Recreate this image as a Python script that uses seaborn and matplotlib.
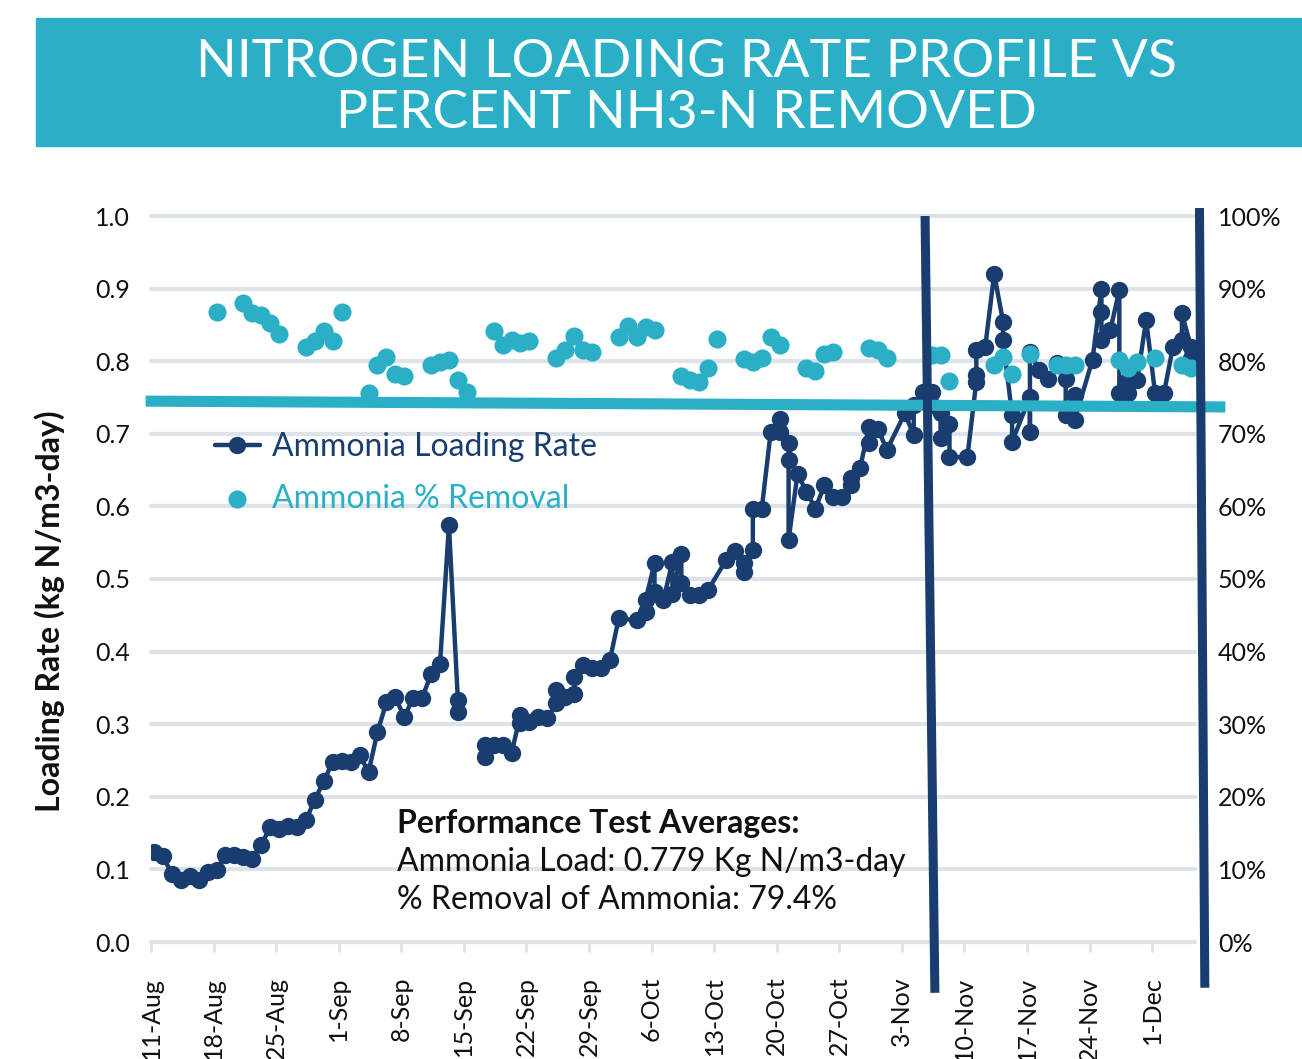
import matplotlib
matplotlib.use("Agg")
import matplotlib.pyplot as plt
import matplotlib.dates as mdates
from matplotlib.patches import Rectangle
from matplotlib.ticker import FuncFormatter, MultipleLocator
import seaborn as sns
import pandas as pd

# ---- data (day offsets from start date) ----
START = pd.Timestamp("2014-08-11")
READ_TIME = pd.Timedelta(hours=8)      # samples taken in the morning
END_DAY = 116.8

# Ammonia loading rate (kg N/m3-day); segment 1 breaks before the mid-Sep gap
rate_day_1 = [0, 1, 2, 3, 4, 5, 6, 7, 8, 9, 10, 11, 12, 13, 14, 15, 16, 17,
              18, 19, 20, 21, 22, 23, 24, 25, 26, 27, 28, 29, 30, 31, 32, 33,
              34, 34]
rate_val_1 = [0.124, 0.118, 0.094, 0.085, 0.091, 0.085, 0.096, 0.099, 0.120,
              0.120, 0.117, 0.115, 0.134, 0.158, 0.156, 0.160, 0.158, 0.168,
              0.196, 0.222, 0.248, 0.250, 0.248, 0.258, 0.234, 0.289, 0.330,
              0.337, 0.310, 0.336, 0.336, 0.369, 0.383, 0.574, 0.333, 0.317]
rate_day_2 = [37, 37, 38, 39, 40, 41, 41, 42, 43, 44, 45, 45, 46, 47, 47, 48,
              49, 50, 51, 52, 54, 55, 55, 56, 56, 57, 58, 58, 59, 59, 60, 61,
              62, 64, 65, 66, 66, 67, 67, 68, 69, 70, 70, 71, 71, 71, 72, 73,
              74, 75, 76, 77, 78, 78, 79, 80, 80, 81, 82, 84, 85, 85, 86, 87,
              87, 88, 88, 89, 89, 91, 92, 92, 92, 93, 94, 95, 95, 96, 96, 98,
              98, 98, 99, 100, 101, 102, 102, 103, 103, 105, 106, 106, 106,
              107, 108, 108, 109, 109, 110, 111, 112, 113, 114, 115, 115, 116,
              116]
rate_val_2 = [0.255, 0.271, 0.271, 0.271, 0.260, 0.313, 0.301, 0.303, 0.310,
              0.308, 0.329, 0.347, 0.338, 0.342, 0.365, 0.382, 0.377, 0.377,
              0.388, 0.446, 0.443, 0.455, 0.471, 0.522, 0.482, 0.471, 0.524,
              0.480, 0.535, 0.494, 0.478, 0.478, 0.485, 0.526, 0.538, 0.510,
              0.522, 0.540, 0.597, 0.597, 0.703, 0.721, 0.703, 0.687, 0.664,
              0.554, 0.645, 0.620, 0.597, 0.629, 0.613, 0.613, 0.630, 0.639,
              0.653, 0.710, 0.687, 0.706, 0.678, 0.728, 0.698, 0.740, 0.758,
              0.758, 0.740, 0.728, 0.694, 0.714, 0.668, 0.668, 0.772, 0.781,
              0.815, 0.820, 0.920, 0.854, 0.829, 0.726, 0.689, 0.751, 0.703,
              0.813, 0.788, 0.776, 0.797, 0.776, 0.726, 0.753, 0.719, 0.802,
              0.900, 0.868, 0.829, 0.843, 0.898, 0.756, 0.756, 0.774, 0.774,
              0.857, 0.756, 0.756, 0.820, 0.829, 0.866, 0.820, 0.804]

# Ammonia % removal
removal_day = [7, 10, 11, 12, 13, 14, 17, 18, 19, 20, 21, 24, 25, 26, 27, 28,
               31, 32, 33, 34, 35, 38, 39, 40, 41, 42, 45, 46, 47, 48, 49, 52,
               53, 54, 55, 56, 59, 60, 61, 62, 63, 66, 67, 68, 69, 70, 73, 74,
               75, 76, 80, 81, 82, 87, 88, 89, 94, 95, 96, 98, 101, 102, 103,
               108, 109, 110, 112, 115, 116]
removal_pct = [86.8, 88.0, 86.6, 86.4, 85.2, 83.8, 82.0, 82.8, 84.2, 82.8,
               86.8, 75.6, 79.5, 80.6, 78.2, 77.9, 79.5, 79.9, 80.2, 77.4,
               75.8, 84.2, 82.2, 82.9, 82.5, 82.8, 80.5, 81.5, 83.5, 81.5,
               81.2, 83.3, 84.8, 83.3, 84.7, 84.3, 77.9, 77.4, 77.2, 79.0,
               83.0, 80.3, 79.9, 80.4, 83.4, 82.2, 79.0, 78.6, 81.0, 81.2,
               81.8, 81.5, 80.5, 80.9, 80.9, 77.3, 79.5, 80.6, 78.2, 81.0,
               79.5, 79.5, 79.5, 80.2, 79.0, 79.9, 80.4, 79.5, 79.0]

# hand-drawn annotations: target removal line and performance test window
target_day = [-0.6, 120.2]
target_pct = [74.5, 73.7]
window_start_day = [86.6, 87.7]
window_end_day = [117.3, 117.9]
window_start_pct = [100.0, -7.0]
window_end_pct = [101.1, -6.3]

TITLE = "NITROGEN LOADING RATE PROFILE VS\nPERCENT NH3-N REMOVED"
NOTE_HEAD = "Performance Test Averages:"
NOTE_LINES = ["Ammonia Load: 0.779 Kg N/m3-day", "% Removal of Ammonia: 79.4%"]

NAVY = "#183D6E"
TEAL = "#2AAFC7"
GRID = "#DDE3E8"
INK = "#111111"


def to_dates(days, offset=READ_TIME):
    return [START + offset + pd.Timedelta(days=d) for d in days]


rate_df = pd.DataFrame({
    "date": to_dates(rate_day_1 + rate_day_2),
    "rate": rate_val_1 + rate_val_2,
    "segment": [1] * len(rate_day_1) + [2] * len(rate_day_2),
})
removal_df = pd.DataFrame({"date": to_dates(removal_day), "pct": removal_pct})

sns.set_theme(style="white")
plt.rcParams["font.family"] = ["Lato", "DejaVu Sans"]

W, H = 1302, 1059
fig = plt.figure(figsize=(W / 100, H / 100), dpi=100)

# title banner
fig.patches.append(Rectangle((36 / W, 1 - 146 / H), 1 - 36 / W, 128 / H,
                             transform=fig.transFigure, color=TEAL, zorder=0))
fig.text(0.527, 1 - 88 / H, TITLE, ha="center", va="center", color="white",
         fontsize=38.5, linespacing=1.08)

ax = fig.add_axes([151 / W, 1 - 942 / H, (1195 - 151) / W, (942 - 216) / H])
ax2 = ax.twinx()

sns.lineplot(data=rate_df, x="date", y="rate", units="segment", estimator=None,
             sort=False, ax=ax, color=NAVY, lw=3.2, marker="o", markersize=12.5,
             markeredgewidth=0, legend=False)
sns.scatterplot(data=removal_df, x="date", y="pct", ax=ax2, color=TEAL, s=170,
                linewidth=0, legend=False, zorder=3)

# annotations
ax2.plot(to_dates(target_day, pd.Timedelta(0)), target_pct, color=TEAL, lw=8,
         clip_on=False, solid_capstyle="butt", zorder=4)
for xs, ys in [(window_start_day, window_start_pct), (window_end_day, window_end_pct)]:
    ax2.plot(to_dates(xs, pd.Timedelta(0)), ys, color=NAVY, lw=6.5, clip_on=False,
             solid_capstyle="butt", zorder=5)

# axes styling
ax.set_xlim(START, START + pd.Timedelta(days=END_DAY))
ax.set_ylim(0, 1.0)
ax2.set_ylim(0, 100)
ax.yaxis.set_major_locator(MultipleLocator(0.1))
ax.yaxis.set_major_formatter(FuncFormatter(lambda v, p: f"{v:.1f}"))
ax2.yaxis.set_major_locator(MultipleLocator(10))
ax2.yaxis.set_major_formatter(FuncFormatter(lambda v, p: f"{v:.0f}%"))
ax.xaxis.set_major_locator(mdates.WeekdayLocator(byweekday=mdates.MO))
ax.xaxis.set_major_formatter(mdates.DateFormatter("%-d-%b"))

ax.grid(axis="y", color=GRID, lw=3, clip_on=False)
ax.grid(axis="x", visible=False)
for a in (ax, ax2):
    for s in a.spines.values():
        s.set_visible(False)
    a.set_xlabel("")
    a.set_ylabel("")
ax.tick_params(axis="y", length=0, pad=15, labelsize=18, labelcolor=INK)
ax2.tick_params(axis="y", length=0, pad=16.5, labelsize=18, labelcolor=INK)
ax.tick_params(axis="x", length=7, width=2, color=GRID, pad=18, labelsize=18,
               labelcolor=INK, labelrotation=90, bottom=True)
for lbl in ax.get_xticklabels():
    lbl.set_va("top")

fig.text(50 / W, 1 - 611 / H, "Loading Rate (kg N/m3-day)", rotation=90,
         ha="center", va="center", fontsize=23, fontweight="bold", color=INK)

# legend
handles = ax.get_lines()[:1] + ax2.collections[:1]
leg = fig.legend(handles, ["Ammonia Loading Rate", "Ammonia % Removal"],
                 loc="upper left", bbox_to_anchor=(215 / W, 1 - 432 / H),
                 frameon=False, fontsize=23, handlelength=1.4, handletextpad=0.38,
                 labelspacing=0.68, borderpad=0, borderaxespad=0)
for txt, col in zip(leg.get_texts(), [NAVY, TEAL]):
    txt.set_color(col)

# performance note
fig.text(397 / W, 1 - 823 / H, NOTE_HEAD, ha="left", va="center", fontsize=23,
         fontweight="bold", color=INK)
for i, line in enumerate(NOTE_LINES):
    fig.text(397 / W, 1 - (862 + 38 * i) / H, line, ha="left", va="center",
             fontsize=23, color=INK)

fig.savefig("out.png", dpi=100)
